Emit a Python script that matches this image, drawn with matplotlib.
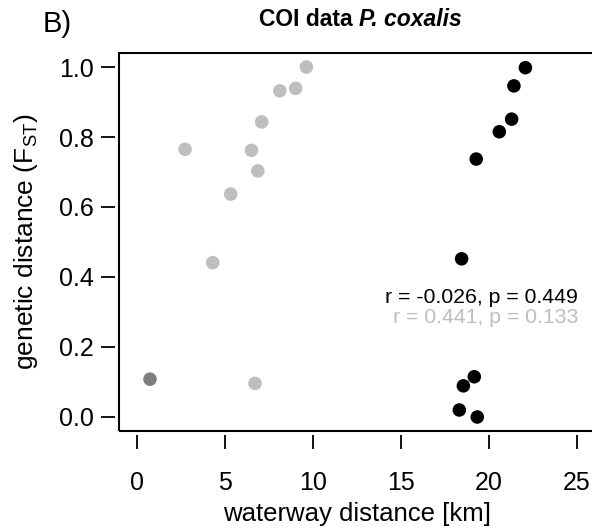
import matplotlib
matplotlib.use("Agg")
import matplotlib.pyplot as plt
from matplotlib.patches import Rectangle

plt.rcParams['font.family'] = ['Liberation Sans', 'DejaVu Sans']
plt.rcParams['mathtext.fontset'] = 'custom'
plt.rcParams['mathtext.rm'] = 'Liberation Sans'

# Data
gray_x = [9.64, 8.13, 9.03, 7.10, 2.75, 6.52, 6.88, 5.34, 4.32, 6.72]
gray_y = [1.000, 0.932, 0.939, 0.843, 0.765, 0.762, 0.703, 0.637, 0.441, 0.096]
dark_x = [0.76]
dark_y = [0.108]
black_x = [22.07, 21.42, 21.29, 20.59, 19.28, 18.45, 19.17, 18.55, 18.32, 19.34]
black_y = [0.998, 0.946, 0.851, 0.815, 0.737, 0.452, 0.115, 0.089, 0.020, 0.000]
x_ticks = [0, 5, 10, 15, 20, 25]
y_ticks = [0.0, 0.2, 0.4, 0.6, 0.8, 1.0]
stat_black = "r = -0.026, p = 0.449"
stat_gray = "r = 0.441, p = 0.133"

W, H = 592, 532
fig = plt.figure(figsize=(W / 100, H / 100), dpi=100)
left, right, top, bottom = 119, 594.6, 53, 431
ax = fig.add_axes([left / W, 1 - bottom / H, (right - left) / W, (bottom - top) / H])

GRAY = '#BEBEBE'
DARK = '#7F7F7F'
s = 95
ax.scatter(gray_x, gray_y, s=s, color=GRAY, edgecolors='none', zorder=3)
ax.scatter(dark_x, dark_y, s=s, color=DARK, edgecolors='none', zorder=3)
ax.scatter(black_x, black_y, s=s, color='black', edgecolors='none', zorder=3)

ax.set_xlim(-1, 26)
ax.set_ylim(-0.04, 1.04)
ax.set_xticks(x_ticks)
ax.set_xticklabels([str(t) for t in x_ticks])
ax.set_yticks(y_ticks)
ax.set_yticklabels([f"{t:.1f}" for t in y_ticks])

for sp in ax.spines.values():
    sp.set_visible(False)
ax.spines['left'].set_position(('outward', 3))
ax.spines['bottom'].set_position(('outward', 3))
ax.add_patch(Rectangle((0, 0), 1, 1, transform=ax.transAxes, fill=False,
                       lw=1.5, edgecolor='black', clip_on=False, zorder=5))

ax.tick_params(axis='both', direction='out', length=10, width=1.3, colors='black',
               labelsize=18)
ax.tick_params(axis='x', pad=16)
ax.tick_params(axis='y', pad=5)

ax.set_xlabel("waterway distance [km]", fontsize=18.5, labelpad=5)
ax.set_ylabel(r"genetic distance (F$\mathregular{_{ST}}$)", fontsize=19, labelpad=14)

ax.text(0.965, 0.352, stat_black, transform=ax.transAxes, ha='right', va='center',
        fontsize=15.3, color='black')
ax.text(0.965, 0.299, stat_gray, transform=ax.transAxes, ha='right', va='center',
        fontsize=15.3, color=GRAY)

# Panel label
fig.text(43 / W, 1 - 24 / H, "B)", fontsize=21, ha='left', va='center')

# Title: bold + bold italic
renderer = fig.canvas.get_renderer()
t1 = fig.text(0, 1 - 20 / H, "COI data ", fontsize=16.5, fontweight='bold',
              ha='left', va='center')
t2 = fig.text(0, 1 - 20 / H, "P. coxalis", fontsize=16.5, fontweight='bold',
              fontstyle='italic', ha='left', va='center')
w1 = t1.get_window_extent(renderer).width
w2 = t2.get_window_extent(renderer).width
cx = 360
x0 = cx - (w1 + w2) / 2
t1.set_x(x0 / W)
t2.set_x((x0 + w1) / W)

fig.savefig("out.png", dpi=100)
